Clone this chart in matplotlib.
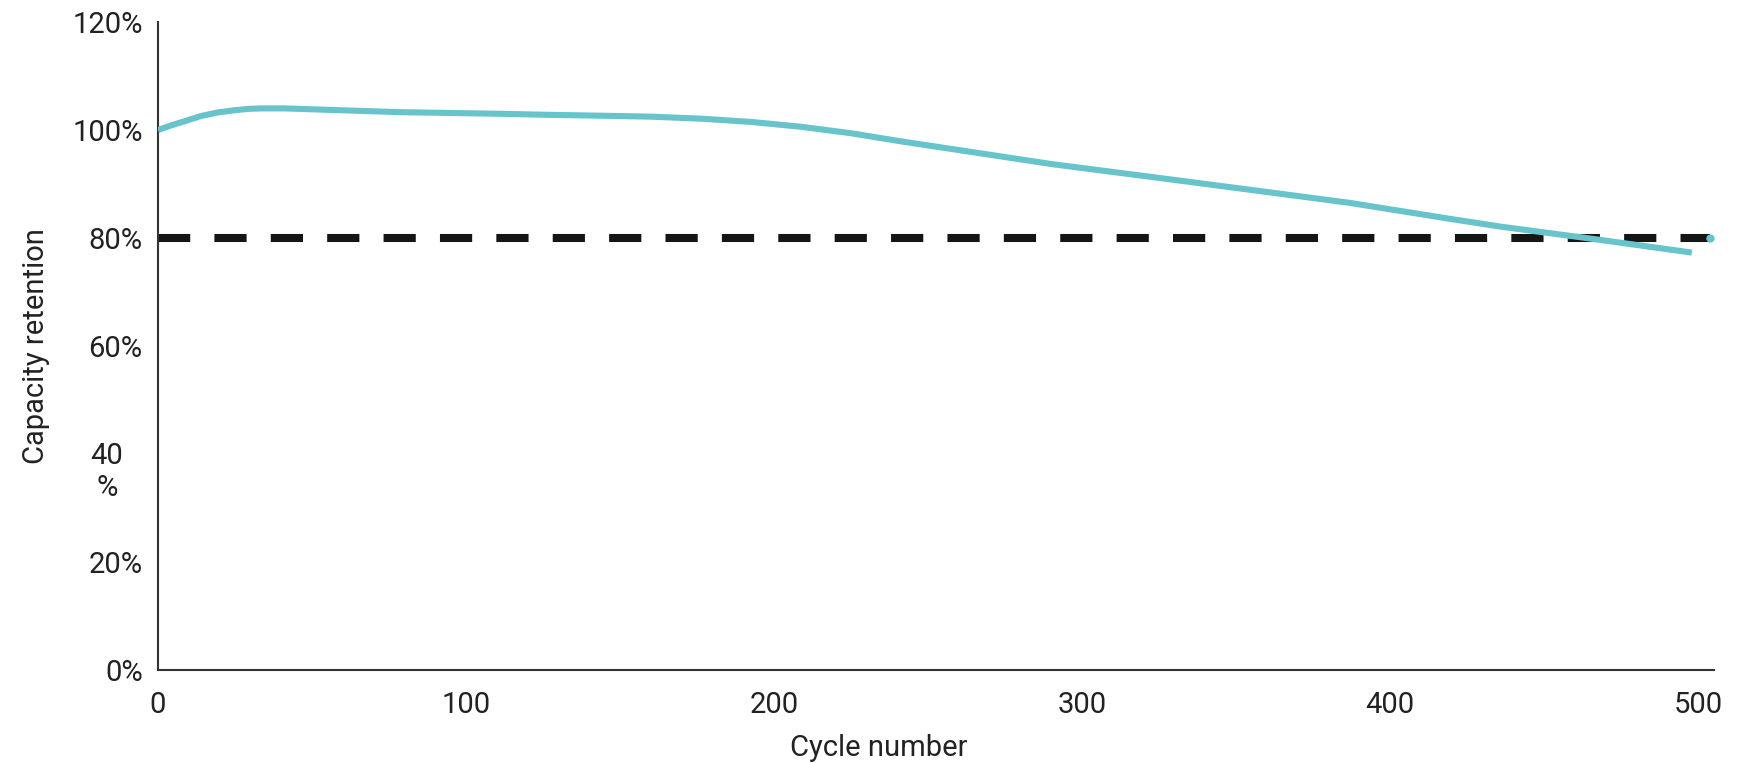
import matplotlib
matplotlib.use("Agg")
import matplotlib.pyplot as plt

plt.rcParams['font.family'] = ['Roboto', 'DejaVu Sans']

# данные
cycles = [0, 4, 8.5, 14, 19.4, 24.8, 29, 33.4, 41, 51.8, 62.7, 78.9,
          95.1, 111.4, 127.6, 143.8, 160.1, 176.3, 192.5, 208.8, 225, 241.2,
          257.5, 290, 322, 355, 387, 420, 436, 465, 498]
retention = [100, 100.8, 101.6, 102.6, 103.25, 103.65, 103.9, 104.0,
             104.0, 103.8, 103.6, 103.3, 103.15, 103.0, 102.8, 102.65, 102.47,
             102.1, 101.5, 100.6, 99.4, 97.9, 96.5, 93.7, 91.35, 88.9, 86.5,
             83.5, 82.1, 79.9, 77.3]
threshold_x = [0, 503.8]
threshold_y = [80, 80]
y_ticks = [0, 20, 40, 60, 80, 100, 120]
y_tick_labels = ['0%', '20%', '', '60%', '80%', '100%', '120%']
x_ticks = [0, 100, 200, 300, 400, 500]

teal = '#68c4cb'
dark = '#141614'
text_color = '#222222'

fig = plt.figure(figsize=(17.5, 7.63), dpi=100)
ax = fig.add_axes([158 / 1750, 1 - 670 / 763, (1714 - 158) / 1750, (670 - 22) / 763])

ax.plot(threshold_x, threshold_y, color=dark, lw=5.8, dashes=(4, 3),
        dash_capstyle='butt', solid_capstyle='butt', zorder=2)
ax.plot(threshold_x[-1], threshold_y[-1], 'o', color=teal, markersize=6,
        markeredgewidth=0, zorder=3)
ax.plot(cycles, retention, color=teal, lw=4.4, solid_capstyle='butt',
        solid_joinstyle='round', zorder=4)

ax.set_xlim(0, 505.2)
ax.set_ylim(0, 120)

ax.set_xticks(x_ticks)
ax.set_yticks(y_ticks)
ax.set_yticklabels(y_tick_labels)
ax.tick_params(axis='both', length=0, labelsize=21, colors=text_color)
ax.tick_params(axis='y', pad=11)
ax.tick_params(axis='x', pad=15)

# подпись 40% в две строки, как на исходнике
ax.annotate('40\n%', xy=(0, 40), xycoords=('axes fraction', 'data'),
            xytext=(-51, 12), textcoords='offset pixels', ha='center', va='top',
            multialignment='center', fontsize=21, color=text_color,
            linespacing=1.2)

for side in ['top', 'right']:
    ax.spines[side].set_visible(False)
for side in ['left', 'bottom']:
    ax.spines[side].set_color('#333333')
    ax.spines[side].set_linewidth(1.5)

ax.set_ylabel('Capacity retention', fontsize=21, color=text_color, labelpad=16)
ax.set_xlabel('Cycle number', fontsize=21, color=text_color)
ax.xaxis.set_label_coords(0.463, -0.099)

fig.savefig('out.png', dpi=100)
